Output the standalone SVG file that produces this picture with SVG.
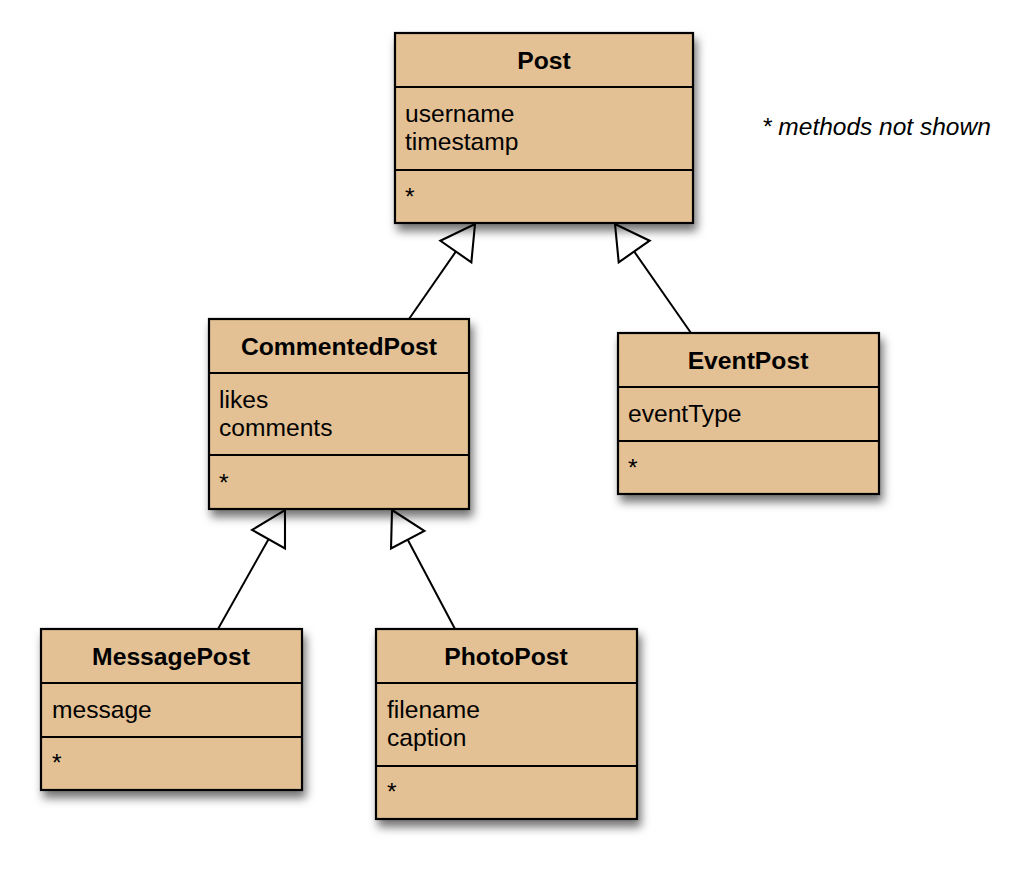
<svg xmlns="http://www.w3.org/2000/svg" width="1024" height="869" viewBox="0 0 1024 869">
  <defs>
    <filter id="shadow" x="-10%" y="-10%" width="125%" height="135%">
      <feDropShadow dx="3" dy="7" stdDeviation="5" flood-color="#000" flood-opacity="0.55"/>
    </filter>
    <marker id="gen" markerUnits="userSpaceOnUse" markerWidth="40" markerHeight="44" viewBox="-2 -21 38 42" refX="32" refY="0" orient="auto">
      <path d="M0,-18 L32,0 L0,18 Z" fill="#fff" stroke="#000" stroke-width="2" stroke-linejoin="miter"/>
    </marker>
    <style>
      .box { fill: #E3C194; stroke: #000; stroke-width: 2.2; }
      .div { stroke: #000; stroke-width: 2; }
      .title { font-family: "Liberation Sans", Arial, sans-serif; font-size: 24.7px; font-weight: bold; fill: #000; text-anchor: middle; }
      .attr { font-family: "Liberation Sans", Arial, sans-serif; font-size: 24.6px; fill: #000; }
      .note { font-family: "Liberation Sans", Arial, sans-serif; font-size: 24.5px; font-style: italic; fill: #000; }
      .conn { stroke: #000; stroke-width: 2; fill: none; marker-end: url(#gen); }
    </style>
  </defs>
  <rect width="1024" height="869" fill="#fff"/>

  <g id="connectors">
    <line class="conn" x1="409" y1="319" x2="475" y2="224"/>
    <line class="conn" x1="691" y1="333" x2="615" y2="224"/>
    <line class="conn" x1="218" y1="629" x2="285" y2="510"/>
    <line class="conn" x1="455" y1="629" x2="392" y2="510"/>
  </g>

  <g id="Post">
    <rect class="box" x="395" y="33" width="298" height="190" filter="url(#shadow)"/>
    <line class="div" x1="395" y1="87" x2="693" y2="87"/>
    <line class="div" x1="395" y1="170" x2="693" y2="170"/>
    <text class="title" x="544" y="69">Post</text>
    <text class="attr" x="405" y="122">username</text>
    <text class="attr" x="405" y="150">timestamp</text>
    <text class="attr" x="405" y="205">*</text>
  </g>

  <g id="CommentedPost">
    <rect class="box" x="209" y="319" width="260" height="190" filter="url(#shadow)"/>
    <line class="div" x1="209" y1="373" x2="469" y2="373"/>
    <line class="div" x1="209" y1="455" x2="469" y2="455"/>
    <text class="title" x="339" y="355">CommentedPost</text>
    <text class="attr" x="219" y="408">likes</text>
    <text class="attr" x="219" y="436">comments</text>
    <text class="attr" x="219" y="491">*</text>
  </g>

  <g id="EventPost">
    <rect class="box" x="618" y="333" width="261" height="161" filter="url(#shadow)"/>
    <line class="div" x1="618" y1="387" x2="879" y2="387"/>
    <line class="div" x1="618" y1="441" x2="879" y2="441"/>
    <text class="title" x="748" y="369">EventPost</text>
    <text class="attr" x="628" y="422">eventType</text>
    <text class="attr" x="628" y="476">*</text>
  </g>

  <g id="MessagePost">
    <rect class="box" x="41" y="629" width="261" height="161" filter="url(#shadow)"/>
    <line class="div" x1="41" y1="683" x2="302" y2="683"/>
    <line class="div" x1="41" y1="737" x2="302" y2="737"/>
    <text class="title" x="171" y="665">MessagePost</text>
    <text class="attr" x="52" y="718">message</text>
    <text class="attr" x="52" y="771">*</text>
  </g>

  <g id="PhotoPost">
    <rect class="box" x="376" y="629" width="261" height="190" filter="url(#shadow)"/>
    <line class="div" x1="376" y1="683" x2="637" y2="683"/>
    <line class="div" x1="376" y1="766" x2="637" y2="766"/>
    <text class="title" x="506" y="665">PhotoPost</text>
    <text class="attr" x="387" y="718">filename</text>
    <text class="attr" x="387" y="746">caption</text>
    <text class="attr" x="387" y="800">*</text>
  </g>

  <g id="note">
    <text class="note" x="762" y="135">* methods not shown</text>
  </g>
</svg>
